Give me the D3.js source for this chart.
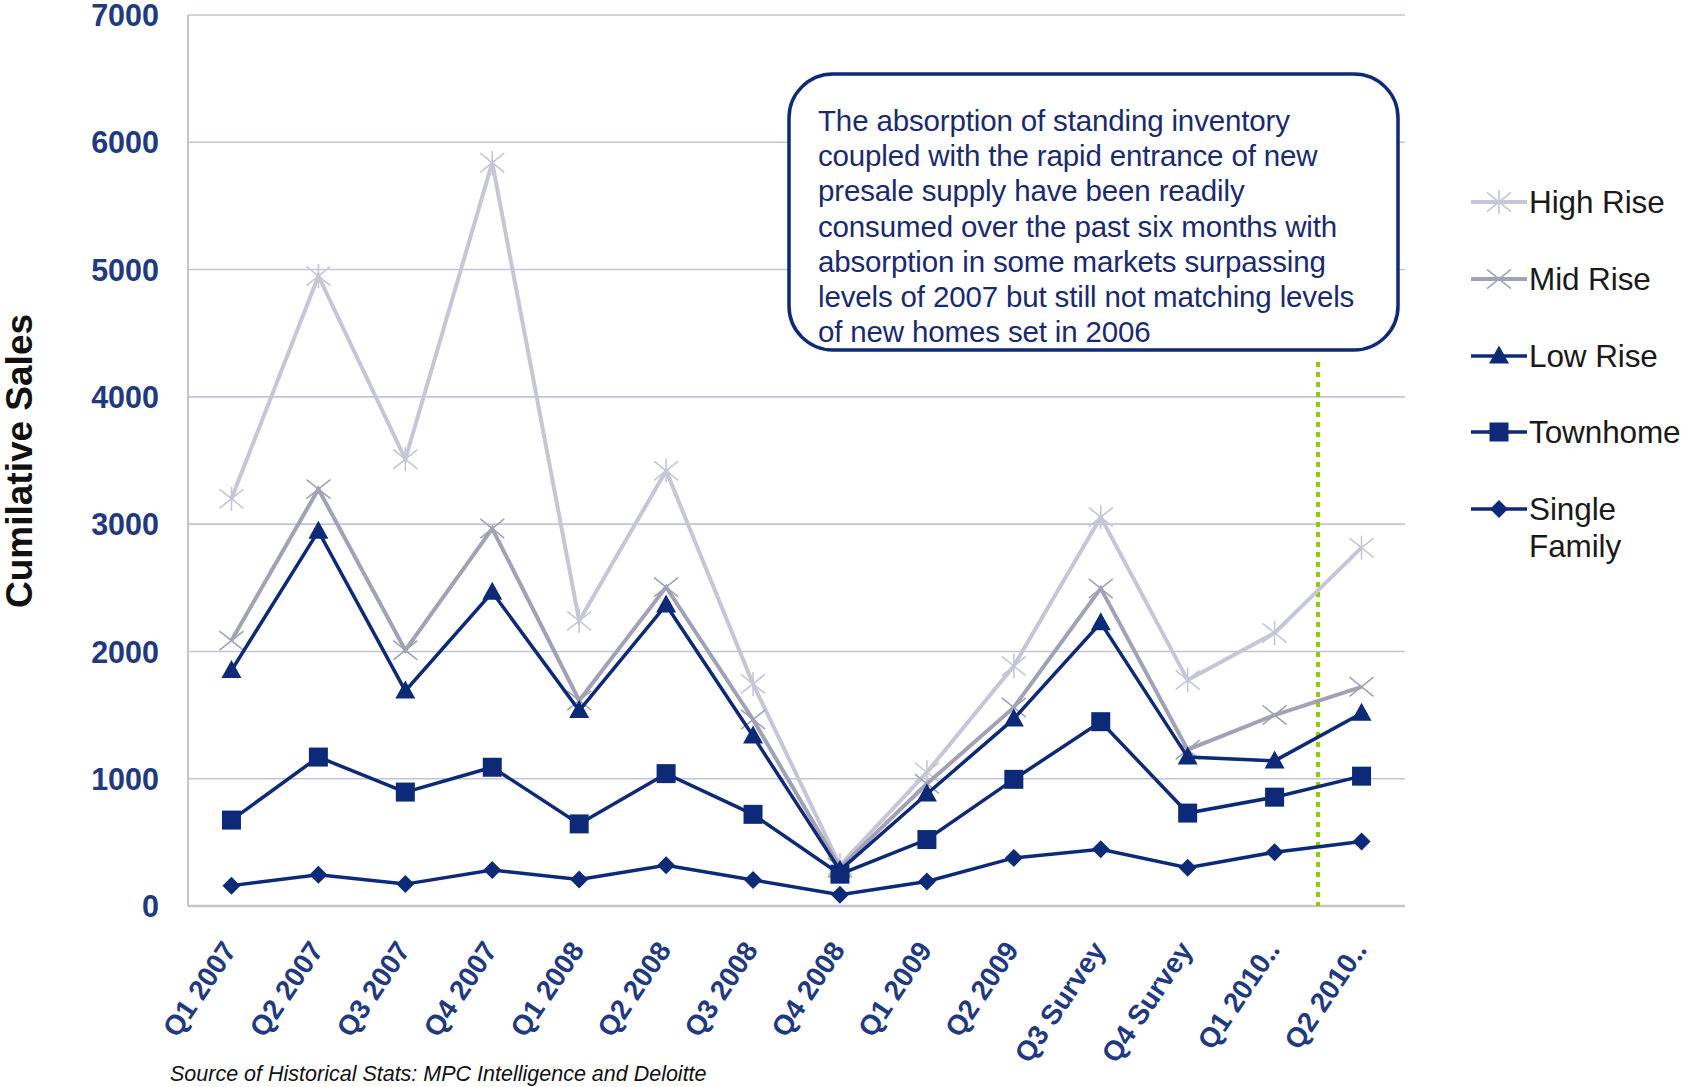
<!DOCTYPE html>
<html><head><meta charset="utf-8">
<script src="https://cdn.jsdelivr.net/npm/d3@7"></script>
<style>
html,body{margin:0;padding:0;background:#fff;}
svg{display:block;font-family:"Liberation Sans",Arial,sans-serif;}
</style></head>
<body>
<svg id="chart" width="1686" height="1087"></svg>
<script>
const categories = ["Q1 2007","Q2 2007","Q3 2007","Q4 2007","Q1 2008","Q2 2008","Q3 2008","Q4 2008","Q1 2009","Q2 2009","Q3 Survey","Q4 Survey","Q1 2010\u2025","Q2 2010\u2025"];
const highRise   = [3200,4950,3510,5840,2240,3420,1745,320,1050,1885,3055,1775,2145,2815];
const midRise    = [2085,3275,2010,2965,1615,2505,1465,300,960,1560,2495,1228,1500,1722];
const lowRise    = [1850,2945,1690,2465,1535,2365,1335,280,880,1470,2225,1170,1140,1514];
const townhome   = [675,1170,895,1090,645,1040,720,250,522,995,1448,730,855,1020];
const singleFam  = [160,245,172,283,208,320,205,88,192,378,446,300,423,506];
const yTicks     = [0,1000,2000,3000,4000,5000,6000,7000];
const seriesNames = ["High Rise","Mid Rise","Low Rise","Townhome","Single Family"];
const annotationLines = [
  "The absorption of standing inventory",
  "coupled with the rapid entrance of new",
  "presale supply have been readily",
  "consumed over the past six months with",
  "absorption in some markets surpassing",
  "levels of 2007 but still not matching levels",
  "of new homes set in  2006"
];
const forecastBoundary = [12, 13]; // dotted line between these categories
const sourceText = "Source of Historical Stats: MPC Intelligence and Deloitte";
const yTitle = "Cumilative Sales";

const NAVY = "#0d2a78";
const series = [
  {name: seriesNames[0], values: highRise, color: "#c6c6d6", width: 4, marker: "asterisk"},
  {name: seriesNames[1], values: midRise, color: "#a2a2b6", width: 4, marker: "x"},
  {name: seriesNames[2], values: lowRise, color: NAVY, width: 3.5, marker: "triangle"},
  {name: seriesNames[3], values: townhome, color: NAVY, width: 3.5, marker: "square"},
  {name: seriesNames[4], values: singleFam, color: NAVY, width: 3.5, marker: "diamond"}
];

const svg = d3.select("#chart");
const L = 188, R = 1405, T = 15, B = 906;

const x = d3.scalePoint().domain(categories).range([L, R]).padding(0.5);
const y = d3.scaleLinear().domain([0, 7000]).range([B, T]);

// gridlines
svg.append("g").selectAll("line").data(yTicks.filter(d => d > 0)).join("line")
  .attr("x1", L).attr("x2", R)
  .attr("y1", d => y(d)).attr("y2", d => y(d))
  .attr("stroke", "#c3c3db").attr("stroke-width", 1.6);

// axes lines
svg.append("line").attr("x1", L).attr("x2", L).attr("y1", T).attr("y2", B)
  .attr("stroke", "#c4c4cc").attr("stroke-width", 2);
svg.append("line").attr("x1", L).attr("x2", R).attr("y1", B).attr("y2", B)
  .attr("stroke", "#c4c4cc").attr("stroke-width", 2.5);

// y tick labels
const yAxis = d3.axisLeft(y).tickValues(yTicks).tickSize(0).tickPadding(0).tickFormat(d3.format("d"));
const yg = svg.append("g").attr("transform", `translate(${L - 29},0)`).call(yAxis);
yg.select(".domain").remove();
yg.selectAll("text").attr("fill", "#1f3a80").style("font-size", "30.5px").style("font-weight", "bold")
  .style("font-family", "'Liberation Sans',Arial,sans-serif").attr("dy", "0.35em");

// x tick labels
const xg = svg.append("g");
xg.selectAll("text").data(categories).join("text")
  .attr("transform", d => `translate(${x(d) + 6},${B + 44}) rotate(-56)`)
  .attr("text-anchor", "end")
  .attr("fill", "#1f3a80").style("font-size", "28px").style("font-weight", "bold")
  .text(d => d);

// y title
svg.append("text").attr("transform", `translate(32,461) rotate(-90)`)
  .attr("text-anchor", "middle").style("font-size", "37px").style("font-weight", "bold")
  .attr("fill", "#111").text(yTitle);

// marker generator
function markerPath(type, s) {
  switch (type) {
    case "asterisk": return `M${-s},${-s*0.8}L${s},${s*0.8}M${-s},${s*0.8}L${s},${-s*0.8}M0,${-s}L0,${s}`;
    case "x": return `M${-s},${-s*0.8}L${s},${s*0.8}M${-s},${s*0.8}L${s},${-s*0.8}`;
    case "triangle": return `M0,${-s*1.05}L${s},${s*0.75}L${-s},${s*0.75}Z`;
    case "square": return `M${-s},${-s}H${s}V${s}H${-s}Z`;
    case "diamond": return `M0,${-s}L${s},0L0,${s}L${-s},0Z`;
  }
}
const markerSize = {asterisk: 12, x: 12, triangle: 10, square: 9.5, diamond: 9};

// dotted forecast line
const bx = (x(categories[forecastBoundary[0]]) + x(categories[forecastBoundary[1]])) / 2;
svg.append("line").attr("x1", bx).attr("x2", bx).attr("y1", 362).attr("y2", B)
  .attr("stroke", "#8ccc00").attr("stroke-width", 4).attr("stroke-dasharray", "5,5");

const line = d3.line().x((d, i) => x(categories[i])).y(d => y(d));
series.forEach(s => {
  const g = svg.append("g");
  g.append("path").datum(s.values).attr("d", line)
    .attr("fill", "none").attr("stroke", s.color).attr("stroke-width", s.width)
    .attr("stroke-linejoin", "miter");
  const stroked = s.marker === "asterisk" || s.marker === "x";
  g.selectAll("path.m").data(s.values).join("path").attr("class", "m")
    .attr("transform", (d, i) => `translate(${x(categories[i])},${y(d)})`)
    .attr("d", markerPath(s.marker, markerSize[s.marker]))
    .attr("fill", stroked ? "none" : s.color)
    .attr("stroke", s.color).attr("stroke-width", stroked ? 1.6 : 0);
});

// legend
const legY = [202, 279, 356, 432, 509];
const lg = svg.append("g");
series.forEach((s, i) => {
  const gy = legY[i];
  lg.append("line").attr("x1", 1471).attr("x2", 1527).attr("y1", gy).attr("y2", gy)
    .attr("stroke", s.color).attr("stroke-width", s.width);
  const stroked = s.marker === "asterisk" || s.marker === "x";
  lg.append("path").attr("transform", `translate(1499,${gy})`)
    .attr("d", markerPath(s.marker, markerSize[s.marker]))
    .attr("fill", stroked ? "none" : s.color)
    .attr("stroke", s.color).attr("stroke-width", stroked ? 1.6 : 0);
  const words = s.name === "Single Family" ? ["Single", "Family"] : [s.name];
  words.forEach((w, k) => {
    lg.append("text").attr("x", 1529).attr("y", gy + k * 37).attr("dy", "0.35em")
      .style("font-size", "31.5px").style("letter-spacing", "-0.1px").attr("fill", "#1a1a1a").text(w);
  });
});

// annotation box
svg.append("rect").attr("x", 789).attr("y", 74).attr("width", 609).attr("height", 276)
  .attr("rx", 44).attr("ry", 44).attr("fill", "#fff").attr("stroke", NAVY).attr("stroke-width", 3.5);
const at = svg.append("text").attr("fill", "#1b2a6e").style("font-size", "29.5px").style("letter-spacing", "-0.15px");
annotationLines.forEach((t, i) => {
  at.append("tspan").attr("x", 818).attr("y", 131 + i * 35.2).text(t);
});

// source
svg.append("text").attr("x", 170).attr("y", 1081).style("font-size", "21.5px").style("font-style", "italic")
  .attr("fill", "#111").text(sourceText);
</script>
</body></html>
